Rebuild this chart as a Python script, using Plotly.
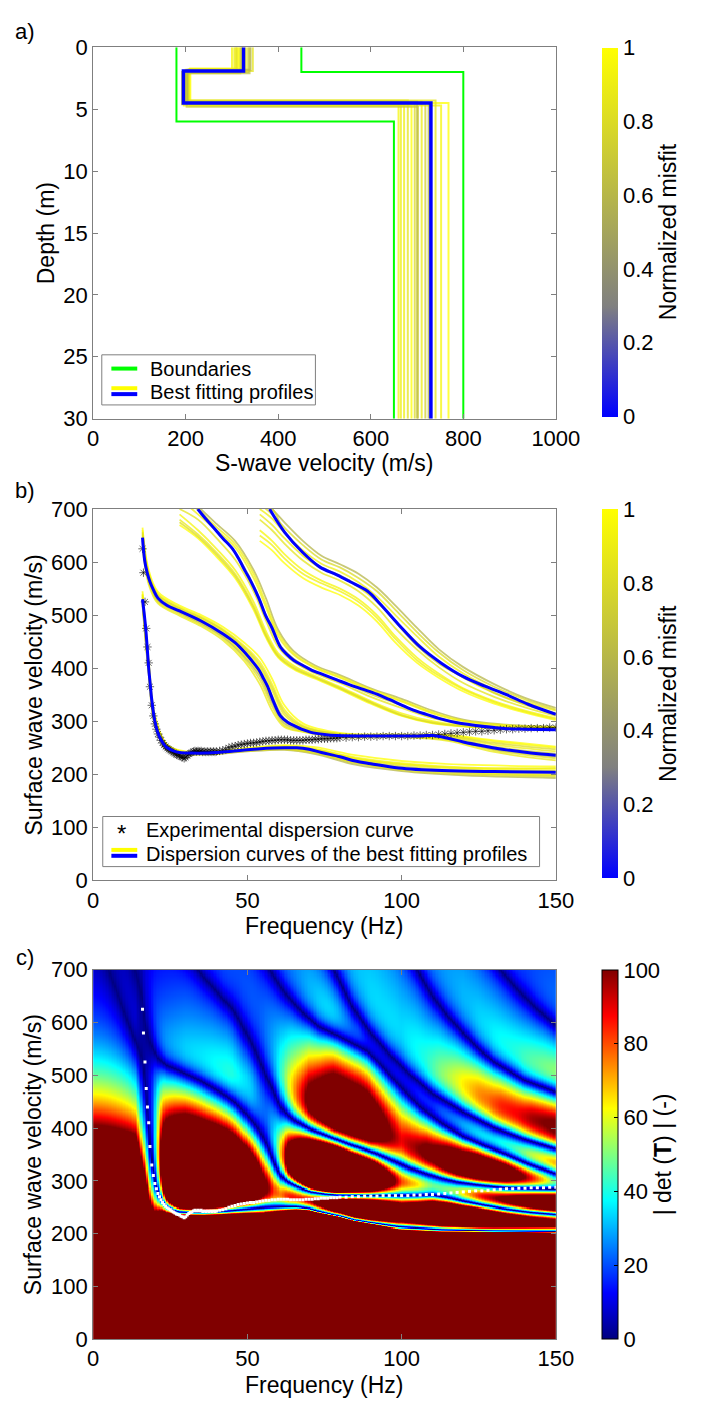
import numpy as np
import plotly.graph_objects as go

W, H = 713, 1413
FONT = "Liberation Sans, Arial, sans-serif"

# ---------------- Panel a data ----------------
bound_left_vs = [180, 180, 650, 650]
bound_left_z = [0, 6, 6, 30]
bound_right_vs = [450, 450, 800, 800]
bound_right_z = [0, 2, 2, 30]

best_vs1, best_d1, best_vs2, best_d2, best_vs3 = 325, 1.9, 195, 4.5, 730

prof_vs1 = [300, 305, 310, 315, 318, 320, 330, 335, 340, 345, 312, 322, 308, 338]
prof_d1 = [1.8, 1.9, 2.0, 1.7, 2.1, 1.85, 1.95, 2.0, 1.8, 1.9, 2.05, 1.75, 1.9, 2.1]
prof_vs2 = [200, 205, 195, 210, 198, 202, 207, 192, 204, 200, 196, 208, 203, 199]
prof_d2 = [4.4, 4.6, 4.3, 4.7, 4.5, 4.8, 4.4, 4.6, 4.5, 4.3, 4.7, 4.5, 4.6, 4.4]
prof_vs3 = [660, 672, 680, 688, 695, 702, 710, 718, 725, 740, 752, 768, 665, 700]
prof_misfit = [0.95, 0.9, 0.85, 1.0, 0.8, 0.7, 0.9, 0.75, 0.6, 0.85, 0.95, 1.0, 0.9, 0.65]

# ---------------- Panel b data ----------------
mode0_f = [16, 16.5, 17, 17.5, 18, 18.5, 19, 20, 21, 22, 23, 24, 26, 28, 32, 36, 42, 50, 56, 62, 66, 70, 74, 80, 85, 90, 99, 113, 130, 150]
mode0_v = [530, 505, 477, 440, 400, 370, 340, 300, 278, 265, 256, 250, 244, 241, 240, 240, 242, 246, 249, 250, 250, 247, 241, 233, 225, 220, 212, 207, 205, 204]
mode1_f = [16, 16.7, 17.5, 18.4, 19.5, 21, 24, 28, 35, 42, 46, 49.4, 52, 53.7, 55, 56.5, 58.6, 60.7, 63, 65, 68, 70.6, 75, 79, 90, 99, 105, 110, 115, 120, 127, 134, 142, 150]
mode1_v = [646, 603, 580, 563, 548, 532, 518, 508, 489, 465, 448, 428, 410, 397, 383, 366, 335, 310, 298, 292, 284, 279, 275, 273, 272, 272, 272, 273, 268, 261, 253, 246, 240, 236]
mode2_f = [33.9, 36, 39.5, 42, 45.2, 47, 49.4, 51, 53.7, 56, 57.9, 60.7, 63, 65, 68, 70.6, 75, 79, 83, 87.6, 92, 96, 103, 108, 113, 118, 124, 130, 134, 140, 150]
mode2_v = [700, 685, 662, 645, 625, 608, 582, 565, 532, 498, 477, 440, 425, 415, 405, 397, 387, 378, 369, 360, 351, 341, 323, 313, 304, 297, 292, 288, 286, 285, 284]
mode3_f = [57.2, 62.1, 67.8, 73.4, 79, 83.3, 89, 93.2, 98.9, 106, 113, 120, 127, 134, 141, 150]
mode3_v = [700, 656, 619, 591, 576, 563, 545, 520, 483, 440, 409, 384, 366, 350, 332, 313]

y0_f = [16, 18, 20, 24, 30, 40, 50, 62, 72, 85, 100, 120, 150]
y0_curves = [
    [540, 410, 308, 254, 242, 242, 248, 253, 248, 232, 221, 213, 210],
    [522, 392, 295, 247, 238, 239, 244, 248, 241, 221, 210, 202, 198],
    [535, 405, 303, 252, 241, 241, 247, 252, 246, 229, 218, 210, 207],
    [518, 388, 292, 246, 238, 238, 243, 246, 238, 218, 206, 198, 193],
    [545, 415, 312, 256, 243, 243, 250, 255, 251, 236, 225, 218, 215],
    [526, 396, 298, 249, 240, 240, 245, 249, 242, 224, 212, 204, 200],
    [530, 400, 300, 250, 240, 240, 246, 250, 244, 226, 215, 207, 204],
    [538, 408, 306, 253, 241, 241, 247, 251, 247, 230, 219, 212, 212],
    [524, 394, 296, 248, 239, 239, 244, 247, 240, 222, 208, 200, 196],
]
y1_f = [16, 18, 21, 28, 35, 42, 49, 54, 58, 62, 68, 80, 100, 115, 130, 150]
y1_curves = [
    [660, 580, 540, 515, 497, 474, 442, 412, 370, 322, 292, 276, 274, 273, 262, 250],
    [635, 562, 525, 502, 482, 457, 418, 378, 328, 292, 281, 271, 271, 265, 245, 230],
    [652, 575, 536, 511, 493, 470, 436, 402, 358, 312, 288, 275, 273, 271, 256, 243],
    [640, 566, 528, 505, 485, 460, 422, 385, 335, 296, 283, 272, 271, 266, 247, 233],
    [665, 585, 544, 518, 500, 478, 448, 420, 380, 330, 296, 278, 275, 274, 264, 252],
    [630, 558, 522, 499, 479, 453, 413, 370, 320, 289, 280, 270, 270, 263, 242, 226],
    [648, 571, 533, 509, 490, 466, 430, 395, 348, 305, 286, 274, 272, 269, 252, 239],
    [644, 568, 530, 507, 487, 463, 425, 390, 340, 300, 284, 273, 272, 267, 249, 236],
    [656, 577, 538, 513, 495, 472, 439, 407, 364, 317, 290, 276, 274, 272, 259, 247],
]
y2_f = [28, 34, 40, 46, 52, 56, 60, 65, 72, 80, 90, 100, 110, 120, 135, 150]
y2_curves = [
    [690, 660, 625, 585, 525, 470, 428, 405, 385, 365, 338, 315, 300, 292, 288, 286],
    [700, 680, 645, 605, 545, 490, 440, 412, 390, 372, 346, 325, 306, 295, 289, 287],
    [720, 690, 660, 628, 570, 515, 460, 425, 400, 382, 357, 337, 315, 300, 291, 289],
    [740, 705, 672, 640, 585, 532, 472, 432, 405, 387, 362, 342, 320, 303, 293, 290],
    [670, 645, 610, 570, 510, 458, 420, 398, 380, 360, 333, 310, 296, 290, 286, 284],
    [680, 652, 618, 578, 518, 464, 424, 402, 383, 363, 336, 312, 298, 291, 287, 285],
    [710, 700, 658, 618, 556, 500, 448, 418, 394, 376, 351, 330, 309, 296, 288, 286],
    [730, 698, 666, 634, 578, 522, 466, 428, 402, 384, 360, 339, 317, 301, 292, 289],
    [675, 648, 614, 574, 514, 461, 422, 400, 382, 362, 335, 311, 297, 291, 287, 285],
]
y3_f = [54, 58, 62, 68, 74, 80, 86, 92, 98, 105, 112, 120, 130, 140, 150]
y3_curves = [
    [660, 640, 615, 585, 565, 550, 530, 500, 460, 420, 390, 362, 338, 320, 306],
    [680, 660, 635, 603, 580, 565, 545, 515, 475, 435, 402, 372, 346, 326, 310],
    [700, 682, 655, 622, 597, 582, 562, 535, 500, 460, 422, 390, 360, 337, 320],
    [720, 700, 675, 640, 612, 596, 578, 552, 518, 476, 436, 402, 370, 344, 325],
    [640, 622, 598, 570, 552, 538, 518, 488, 448, 410, 382, 356, 333, 316, 302],
    [690, 670, 645, 612, 588, 573, 553, 525, 488, 448, 412, 382, 353, 331, 314],
    [705, 700, 657, 617, 590, 575, 555, 528, 487, 442, 409, 383, 354, 332, 315],
    [650, 632, 607, 578, 560, 545, 525, 495, 455, 415, 386, 360, 336, 318, 304],
    [710, 690, 665, 632, 605, 590, 570, 545, 510, 468, 430, 396, 365, 341, 322],
]
yellow_misfit = [0.95, 0.85, 0.9, 0.6, 1.0, 0.88, 0.75, 0.92, 0.8]

exp_f = [16, 16.3, 16.8, 17.2, 17.6, 18, 18.4, 19, 19.5, 20, 20.5, 21, 21.5, 22, 22.5, 23, 23.5, 24, 24.5, 25, 25.5, 26, 26.5, 27, 27.5, 28, 28.5, 29, 29.5, 30, 30.5, 31, 31.5, 32, 32.5, 33, 33.5, 34, 34.5, 35, 35.5, 36, 36.5, 37, 37.5, 38, 38.5, 39, 39.5, 40,
         41, 42, 43, 44, 45, 46, 47, 48, 49, 50, 51, 52, 53, 54, 55, 56, 57, 58, 59, 60, 61, 62, 63, 64, 65, 66, 67, 68, 69, 70, 71, 72, 73, 74, 75, 76, 77, 78, 79, 80,
         82, 84, 86, 88, 90, 92, 94, 96, 98, 100, 102, 104, 106, 108, 110, 112, 114, 116, 118, 120, 122, 124, 126, 128, 130, 132, 134, 136, 138, 140, 142, 144, 146, 148, 150]
exp_v = [625, 580, 525, 475, 440, 410, 365, 330, 310, 295, 285, 276, 270, 264, 259, 255, 252, 249, 247, 245, 243, 241, 239, 237, 236, 235, 233, 232, 230, 232, 235, 238, 240, 241, 243, 244, 243, 244, 243, 244, 242, 243, 242, 243, 242, 243, 242, 243, 242, 243,
         244, 245, 247, 250, 252, 253, 255, 256, 257, 258, 259, 259, 260, 261, 262, 263, 263, 264, 264, 265, 265, 265, 265, 264, 264, 264, 264, 264, 265, 265, 265, 266, 266, 267, 267, 267, 268, 268, 268, 269,
         269, 270, 270, 271, 271, 271, 272, 272, 272, 272, 272, 273, 273, 274, 274, 275, 276, 277, 278, 279, 280, 281, 281, 282, 283, 284, 285, 285, 286, 286, 287, 287, 287, 288, 288]

# ---------------- Panel c data: zero lines of |det T| read from the map ----------------
# (each line is continued above the 700 m/s frame so that it enters the map smoothly)
c_mode0_f = [0, 5, 10, 13] + mode0_f
c_mode0_v = [780, 700, 620, 575] + mode0_v
c_mode1_f = [0, 10, 14] + mode1_f
c_mode1_v = [900, 760, 690] + mode1_v
c_mode2_f = [0, 10, 20, 28] + mode2_f
c_mode2_v = [960, 880, 800, 740] + mode2_v
c_mode3_f = [20, 30, 40, 50] + mode3_f
c_mode3_v = [1040, 950, 860, 770] + mode3_v
c_mode4_f = [45, 60, 70, 78, 84, 90, 96, 102, 110, 120, 130, 140, 150]
c_mode4_v = [1040, 900, 790, 700, 630, 580, 540, 505, 465, 430, 400, 378, 360]
c_mode5_f = [70, 85, 95, 105, 110, 115, 120, 125, 130, 140, 150]
c_mode5_v = [1000, 900, 800, 700, 650, 612, 580, 550, 525, 490, 468]
c_mode6_f = [90, 105, 120, 132, 138, 144, 150]
c_mode6_v = [960, 880, 780, 700, 660, 625, 595]

# amplitude trend of the map: saturation velocity, decay length, background level, line half-width
amp_f = [0, 15, 30, 45, 55, 62, 70, 78, 90, 100, 110, 125, 140, 150]
amp_vr = [410, 410, 431, 415, 385, 420, 470, 487, 460, 410, 420, 455, 460, 460]
amp_Lf = [0, 15, 30, 150]
amp_L = [125, 110, 85, 85]
bg_f = [0, 15, 30, 50, 80, 120, 140, 150]
bg_lvl = [0, 5, 15, 20, 28, 25, 15, 15]
lw_v = [200, 400, 500, 700]
lw_px = [28, 22, 14, 10]

ticks_c = [0, 20, 40, 60, 80, 100]
misfit_ticks = [0, 0.2, 0.4, 0.6, 0.8, 1]
misfit_text = ["0", "0.2", "0.4", "0.6", "0.8", "1"]

# ---------------- helpers ----------------
def PX(x):
    return x / W


def PY(y):
    return 1 - y / H


MISFIT_SCALE = [[0, "rgb(0,0,255)"], [0.3, "rgb(128,128,128)"], [1, "rgb(255,255,0)"]]


def misfit_color(m, alpha=1.0):
    stops = [(0, (0, 0, 255)), (0.3, (128, 128, 128)), (1, (255, 255, 0))]
    for (a, ca), (b, cb) in zip(stops[:-1], stops[1:]):
        if a <= m <= b:
            t = (m - a) / (b - a)
            c = [round(ca[i] + t * (cb[i] - ca[i])) for i in range(3)]
            return f"rgba({c[0]},{c[1]},{c[2]},{alpha})"
    return f"rgba(255,255,0,{alpha})"


JET = [[0, "rgb(0,0,128)"], [0.125, "rgb(0,0,255)"], [0.375, "rgb(0,255,255)"],
       [0.625, "rgb(255,255,0)"], [0.875, "rgb(255,0,0)"], [1, "rgb(128,0,0)"]]

fig = go.Figure()

# ---------------- Panel a ----------------
order = np.argsort(prof_misfit)[::-1]
for i in order:
    xs = [prof_vs1[i], prof_vs1[i], prof_vs2[i], prof_vs2[i], prof_vs3[i], prof_vs3[i]]
    ys = [0, prof_d1[i], prof_d1[i], prof_d2[i], prof_d2[i], 30]
    fig.add_trace(go.Scatter(x=xs, y=ys, mode="lines", xaxis="x", yaxis="y",
                             line=dict(color=misfit_color(prof_misfit[i], 0.75), width=2),
                             showlegend=False, hoverinfo="skip"))
fig.add_trace(go.Scatter(x=bound_left_vs, y=bound_left_z, mode="lines", xaxis="x", yaxis="y",
                         line=dict(color="#00ff00", width=2), showlegend=False))
fig.add_trace(go.Scatter(x=bound_right_vs, y=bound_right_z, mode="lines", xaxis="x", yaxis="y",
                         line=dict(color="#00ff00", width=2), showlegend=False))
fig.add_trace(go.Scatter(x=[best_vs1, best_vs1, best_vs2, best_vs2, best_vs3, best_vs3],
                         y=[0, best_d1, best_d1, best_d2, best_d2, 30], mode="lines",
                         xaxis="x", yaxis="y", line=dict(color="#0000ff", width=3.5),
                         showlegend=False))
fig.add_trace(go.Scatter(x=[-1000], y=[-1000], mode="markers", xaxis="x", yaxis="y",
                         marker=dict(color=[0], coloraxis="coloraxis", opacity=0),
                         showlegend=False, hoverinfo="skip"))

# ---------------- Panel b ----------------
for fk, curves in [(y0_f, y0_curves), (y1_f, y1_curves), (y2_f, y2_curves), (y3_f, y3_curves)]:
    for j, cv in enumerate(curves):
        fig.add_trace(go.Scatter(x=fk, y=cv, mode="lines", xaxis="x2", yaxis="y2",
                                 line=dict(color=misfit_color(yellow_misfit[j], 0.75), width=1.8, shape="spline"),
                                 showlegend=False, hoverinfo="skip"))
fig.add_trace(go.Scatter(x=exp_f, y=exp_v, mode="markers", xaxis="x2", yaxis="y2",
                         marker=dict(symbol="asterisk-open", size=7, color="rgba(0,0,0,0.6)",
                                     line=dict(color="rgba(30,30,30,0.6)", width=1)),
                         showlegend=False))
for fk, vk in [(mode0_f, mode0_v), (mode1_f, mode1_v), (mode2_f, mode2_v), (mode3_f, mode3_v)]:
    fig.add_trace(go.Scatter(x=fk, y=vk, mode="lines", xaxis="x2", yaxis="y2",
                             line=dict(color="#0000ff", width=3, shape="spline"), showlegend=False))
fig.add_trace(go.Scatter(x=[-1000], y=[-1000], mode="markers", xaxis="x2", yaxis="y2",
                         marker=dict(color=[0], coloraxis="coloraxis2", opacity=0),
                         showlegend=False, hoverinfo="skip"))

# ---------------- Panel c ----------------
zc_curves = [(c_mode0_f, c_mode0_v), (c_mode1_f, c_mode1_v), (c_mode2_f, c_mode2_v),
             (c_mode3_f, c_mode3_v), (c_mode4_f, c_mode4_v), (c_mode5_f, c_mode5_v),
             (c_mode6_f, c_mode6_v)]
Fg = np.arange(0, 150.01, 0.5)
Vg = np.arange(0, 700.01, 2.0)
px_per_hz = (574 - 91) / 150.0
px_per_v = (1351 - 975) / 700.0
kernel = np.ones(9) / 9.0
C, K = [], []
for fk, vk in zc_curves:
    fk = np.asarray(fk, float)
    vk = np.asarray(vk, float)
    row = np.interp(Fg, fk, vk)
    slope = np.gradient(row, Fg) * px_per_v / px_per_hz
    slope = np.convolve(np.pad(slope, 4, mode="edge"), kernel, mode="valid")
    outside = (Fg < fk.min()) | (Fg > fk.max())
    row[outside] = np.nan
    C.append(row)
    K.append(px_per_v / np.sqrt(1 + slope ** 2))
C = np.array(C)
K = np.array(K)
D = (Vg[None, :, None] - C[:, None, :]) * K[:, None, :]
valid = ~np.isnan(D)
dlo = np.min(np.where(valid & (D >= 0), D, np.inf), axis=0)
dhi = np.min(np.where(valid & (D < 0), -D, np.inf), axis=0)
wpx = np.interp(Vg, lw_v, lw_px)[:, None]
s = (1 - np.exp(-dlo / wpx)) * (1 - np.exp(-dhi / wpx))
vr = np.interp(Fg, amp_f, amp_vr)
Lr = np.interp(Fg, amp_Lf, amp_L)
bg = np.interp(Fg, bg_f, bg_lvl)
A = 100 * np.exp(-(Vg[:, None] - vr[None, :]) / Lr[None, :]) + bg[None, :]
Z = np.clip(A * s, 0, 100)

fig.add_trace(go.Heatmap(x=Fg, y=Vg, z=Z, xaxis="x3", yaxis="y3", coloraxis="coloraxis3",
                         hoverinfo="skip"))
fig.add_trace(go.Scatter(x=exp_f, y=exp_v, mode="markers", xaxis="x3", yaxis="y3",
                         marker=dict(symbol="square", size=3, color="white"), showlegend=False))

# ---------------- Layout ----------------
xdom = [PX(91), PX(574)]
doms = {"a": [PY(414), PY(36)], "b": [PY(884), PY(506)], "c": [PY(1351), PY(975)]}

axis_common = dict(showline=True, mirror="ticks", linecolor="#7f7f7f", linewidth=1,
                   ticks="inside", ticklen=5, tickcolor="#7f7f7f", showgrid=False, zeroline=False,
                   tickfont=dict(family=FONT, size=22, color="black"))


def cbar(ypix0, ypix1, title, tickvals, ticktext, outline):
    return dict(x=PX(622), xanchor="left", xpad=0, ypad=0, thickness=16, thicknessmode="pixels",
                len=(ypix1 - ypix0) / H, lenmode="fraction", y=PY((ypix0 + ypix1) / 2), yanchor="middle",
                tickvals=tickvals, ticktext=ticktext, ticks=("inside" if outline else ""), ticklen=4,
                tickcolor="black", outlinewidth=(1 if outline else 0), outlinecolor="black",
                tickfont=dict(family=FONT, size=22, color="black"),
                title=dict(text=title, side="right", font=dict(family=FONT, size=23, color="black")))


fig.update_layout(
    width=W, height=H, margin=dict(l=0, r=0, t=0, b=0),
    paper_bgcolor="white", plot_bgcolor="white", showlegend=False,
    font=dict(family=FONT, color="black"),
    xaxis=dict(domain=xdom, anchor="y", range=[0, 1000], tickvals=[0, 200, 400, 600, 800, 1000], **axis_common),
    yaxis=dict(domain=doms["a"], anchor="x", range=[30, 0], tickvals=[0, 5, 10, 15, 20, 25, 30], **axis_common),
    xaxis2=dict(domain=xdom, anchor="y2", range=[0, 150], tickvals=[0, 50, 100, 150], **axis_common),
    yaxis2=dict(domain=doms["b"], anchor="x2", range=[0, 700], tickvals=list(range(0, 701, 100)), **axis_common),
    xaxis3=dict(domain=xdom, anchor="y3", range=[0, 150], tickvals=[0, 50, 100, 150], **axis_common),
    yaxis3=dict(domain=doms["c"], anchor="x3", range=[0, 700], tickvals=list(range(0, 701, 100)), **axis_common),
    coloraxis=dict(colorscale=MISFIT_SCALE, cmin=0, cmax=1,
                   colorbar=cbar(36, 412, "Normalized misfit", misfit_ticks, misfit_text, False)),
    coloraxis2=dict(colorscale=MISFIT_SCALE, cmin=0, cmax=1,
                    colorbar=cbar(506, 882, "Normalized misfit", misfit_ticks, misfit_text, False)),
    coloraxis3=dict(colorscale=JET, cmin=0, cmax=100,
                    colorbar=cbar(975, 1351, "| det (<b>T</b>) | (-)", ticks_c, [str(t) for t in ticks_c], True)),
)

ann = []


def text(x, y, t, size=23, rot=0, xanchor="center"):
    ann.append(dict(x=PX(x), y=PY(y), xref="paper", yref="paper", text=t, showarrow=False,
                    textangle=rot, xanchor=xanchor, yanchor="middle",
                    font=dict(family=FONT, size=size, color="black")))


text(20, 20, "a)", 22)
text(20, 487, "b)", 22)
text(20, 963, "c)", 22)
text(332, 459, "S-wave velocity (m/s)")
text(332, 930, "Frequency (Hz)")
text(332, 1398, "Frequency (Hz)")
text(42, 225, "Depth (m)", rot=-90)
text(29, 695, "Surface wave velocity (m/s)", rot=-90)
text(29, 1163, "Surface wave velocity (m/s)", rot=-90)

shapes = []


def rect(x0, y0, x1, y1):
    shapes.append(dict(type="rect", xref="paper", yref="paper", x0=PX(x0), x1=PX(x1), y0=PY(y1), y1=PY(y0),
                       line=dict(color="#7f7f7f", width=1), fillcolor="white", layer="above"))


def seg(x0, x1, y, color, w=4):
    shapes.append(dict(type="line", xref="paper", yref="paper", x0=PX(x0), x1=PX(x1), y0=PY(y), y1=PY(y),
                       line=dict(color=color, width=w), layer="above"))


rect(100, 349, 323, 400)
seg(110, 137, 363, "#00ff00")
seg(110, 137, 383, "#ffff00")
seg(110, 137, 389, "#0000ff")
rect(101, 819, 557, 870)
seg(110, 137, 853, "#ffff00")
seg(110, 137, 859, "#0000ff")
fig.update_layout(shapes=shapes)
text(148, 363, "Boundaries", 20, xanchor="left")
text(148, 387, "Best fitting profiles", 20, xanchor="left")
text(121, 836, "*", 24)
text(144, 833, "Experimental dispersion curve", 20, xanchor="left")
text(144, 857, "Dispersion curves of the best fitting profiles", 20, xanchor="left")
fig.update_layout(annotations=ann)

fig.write_html("out.html", config={"displayModeBar": False},
               post_script="document.body.style.margin='0px';document.body.style.overflow='hidden';")
